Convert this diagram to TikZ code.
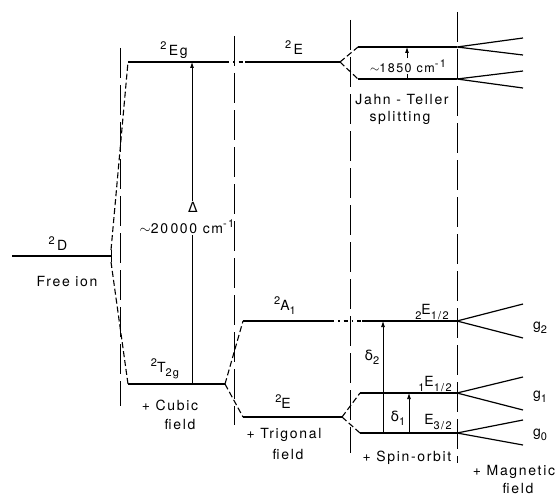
\documentclass[tikz,border=0pt]{standalone}
\usepackage{fontspec}
\setmainfont{TeX Gyre Heros}[LetterSpace=12]
\newfontfamily\grk{DejaVu Sans}
\usetikzlibrary{arrows.meta}
\newcommand\hi[1]{\raisebox{0.8ex}{\fontsize{11}{11}\selectfont #1}}
\newcommand\lo[1]{\raisebox{-0.55ex}{\fontsize{11}{11}\selectfont #1}}
\begin{document}
\begin{tikzpicture}[x=1pt,y=-1pt,
  font=\fontsize{14}{15}\selectfont,
  level/.style={line width=1.2pt},
  sep/.style={line width=0.75pt, dash pattern=on 30pt off 7pt},
  branch/.style={line width=1.1pt, dash pattern=on 6pt off 3pt},
  dashdot/.style={line width=1.1pt, dash pattern=on 4pt off 4pt on 1.5pt off 4pt},
  arr/.style={line width=0.75pt,-{Latex[length=6pt,width=4pt]}},
  lbl/.style={inner sep=1pt}]
\useasboundingbox (0,0) rectangle (557,495);
% separators
\coordinate (s1t) at (120,48);  \coordinate (s1b) at (120,406);
\coordinate (s2t) at (234,36);  \coordinate (s2b) at (234,425);
\coordinate (s3t) at (350,20);  \coordinate (s3b) at (350,453);
\coordinate (s4t) at (457,12);  \coordinate (s4b) at (457,463);
\draw[sep] (s1t) -- (s1b);
\draw[sep] (s2t) -- (s2b);
\draw[sep] (s3t) -- (s3b);
\draw[sep] (s4t) -- (s4b);
% free ion
\coordinate (dL) at (12,256); \coordinate (dR) at (111,256);
\coordinate (dRu) at (111,250); \coordinate (dRd) at (111,262);
\draw[level] (dL) -- (dR);
\draw[line width=1pt] (dRu) -- (dRd);
% cubic
\coordinate (egL) at (128,62); \coordinate (egR) at (225,62);
\coordinate (tL) at (128,384); \coordinate (tR) at (225,384);
\draw[branch] (dRu) -- (egL);
\draw[branch] (dRd) -- (tL);
\draw[level] (egL) -- (egR);
\draw[level] (tL) -- (tR);
% trigonal
\coordinate (eL) at (245,62); \coordinate (eR) at (340,62);
\draw[dashdot] (egR) -- (eL);
\draw[level] (eL) -- (eR);
\coordinate (aL) at (243,321); \coordinate (aR) at (330,321);
\coordinate (etL) at (243,417); \coordinate (etR) at (342,417);
\draw[branch] (tR) -- (aL);
\draw[branch] (tR) -- (etL);
\draw[level] (aL) -- (aR);
\draw[level] (etL) -- (etR);
% Jahn-Teller / spin-orbit
\coordinate (juL) at (358,47); \coordinate (juR) at (457,47);
\coordinate (jdL) at (358,79); \coordinate (jdR) at (457,79);
\draw[branch] (eR) -- (juL);
\draw[branch] (eR) -- (jdL);
\draw[level] (juL) -- (juR);
\draw[level] (jdL) -- (jdR);
\coordinate (a2L) at (362,321); \coordinate (a2R) at (457,321);
\draw[dashdot] (aR) -- (a2L);
\draw[level] (a2L) -- (a2R);
\coordinate (e1L) at (360,393); \coordinate (e1R) at (457,393);
\coordinate (e3L) at (360,433); \coordinate (e3R) at (457,433);
\draw[branch] (etR) -- (e1L);
\draw[branch] (etR) -- (e3L);
\draw[level] (e1L) -- (e1R);
\draw[level] (e3L) -- (e3R);
% magnetic
\coordinate (m1) at (523,38);  \coordinate (m2) at (523,55);
\coordinate (m3) at (523,71);  \coordinate (m4) at (523,88);
\coordinate (m5) at (523,304); \coordinate (m6) at (523,338);
\coordinate (m7) at (523,377); \coordinate (m8) at (523,410);
\coordinate (m9) at (523,420); \coordinate (m10) at (523,445);
\draw[level] (m1) -- (juR) -- (m2);
\draw[level] (m3) -- (jdR) -- (m4);
\draw[level] (m5) -- (a2R) -- (m6);
\draw[level] (m7) -- (e1R) -- (m8);
\draw[level] (m9) -- (e3R) -- (m10);
% labels
\node[lbl] (lD) at (58,244) {\hi{2}\,D};
\node[lbl] (lfree) at (67,282) {Free ion};
\node[lbl] (lEg) at (174,50) {\hi{2}\,Eg};
\node[lbl] (lT) at (165,369) {\hi{2}T\lo{2g}};
\node[lbl] (lcub1) at (170,405) {+ Cubic};
\node[lbl] (lcub2) at (180,424) {field};
\node[lbl] (lE) at (294,48) {\hi{2}\,E};
\node[lbl] (lA) at (285,306) {\hi{2}A\lo{1}};
\node[lbl] (lEt) at (283,402) {\hi{2}E};
\node[lbl] (ltri1) at (284,435) {+ Trigonal};
\node[lbl] (ltri2) at (288,454) {field};
\node[lbl] (lJT) at (408,66) {\fontsize{12.5}{14}\selectfont$\sim$1850 cm\hi{-1}};
\node[lbl] (ljt1) at (402,100) {Jahn - Teller};
\node[lbl] (ljt2) at (400,118) {splitting};
\node[lbl] (lE2) at (432,312) {\lo{2}E\lo{1/2}};
\node[lbl] (lE1) at (435,384) {\lo{1}E\lo{1/2}};
\node[lbl] (lE3) at (438,422) {E\lo{3/2}};
\node[lbl] (ld2) at (372,357) {{\grk δ}\lo{2}};
\node[lbl] (ld1) at (398,418) {{\grk δ}\lo{1}};
\node[lbl] (lso) at (407,458) {+ Spin-orbit};
\node[lbl] (lg2) at (540,328) {g\lo{2}};
\node[lbl] (lg1) at (540,397) {g\lo{1}};
\node[lbl] (lg0) at (540,435) {g\lo{0}};
\node[lbl] (lmag1) at (514,472) {+ Magnetic};
\node[lbl] (lmag2) at (518,488) {field};
\node[lbl] (lDelta) at (193,207) {\grk Δ};
\node[lbl] (lwave) at (187,227) {$\sim$20\,000 cm\hi{-1}};
% arrows
\coordinate (Db) at (192,384); \coordinate (Dt) at (192,62);
\draw[line width=0.75pt] (Db) -- (Db |- lwave.south);
\draw[arr] (Dt |- lDelta.north) -- (Dt);
\coordinate (Jb) at (407,79); \coordinate (Jt) at (407,47);
\draw[line width=0.75pt] (Jb) -- (Jb |- lJT.south);
\draw[arr] (Jt |- lJT.north) -- (Jt);
\coordinate (d2b) at (383,433); \coordinate (d2t) at (383,321);
\draw[arr] (d2b) -- (d2t);
\coordinate (d1b) at (409,433); \coordinate (d1t) at (409,393);
\draw[arr] (d1b) -- (d1t);
\end{tikzpicture}
\end{document}
